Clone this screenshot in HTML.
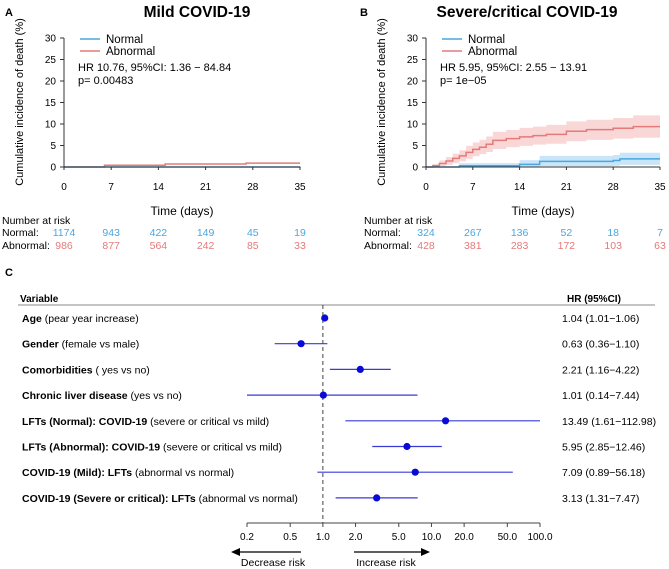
<!DOCTYPE html>
<html><head><meta charset="utf-8"><style>
body{margin:0;background:#fff}
svg{display:block;font-family:"Liberation Sans",Arial,sans-serif}
</style></head><body>
<svg id="s" width="669" height="569" viewBox="0 0 669 569">
<g id="pa"></g>
<g id="pb"></g>
<g id="pc"></g>
</svg>
<script>
const NS="http://www.w3.org/2000/svg";
function el(p,t,a,txt){const e=document.createElementNS(NS,t);for(const k in a)e.setAttribute(k,a[k]);if(txt!=null)e.textContent=txt;p.appendChild(e);return e;}

// ---- KM data ----
const kmTicks=[0,7,14,21,28,35];
const yTicks=[0,5,10,15,20,25,30];
const aNormT=[0,35];const aNormV=[0,0.1];
const aAbnT=[0,6,15,27,35];const aAbnV=[0,0.4,0.7,0.9,0.9];
const bAbnT=[0,1,2,3,4,5,6,7,8,9,10,12,14,16,18,21,24,28,31,35];
const bAbnV=[0,0.3,0.8,1.4,2,2.6,3.4,4.1,4.6,5.3,6.2,6.6,7,7.3,7.6,8.3,8.7,9,9.4,9.4];
const bAbnLo=[0,0,0.2,0.5,0.9,1.3,1.9,2.5,3,3.5,4.2,4.6,4.9,5.2,5.4,6,6.3,6.6,6.8,6.8];
const bAbnHi=[0,0.7,1.5,2.3,3.1,3.9,4.9,5.7,6.3,7.1,8.2,8.6,9.1,9.4,9.8,10.6,11,11.4,12,12];
const bNormT=[0,5,14,17,28,29,35];
const bNormV=[0,0.3,0.6,1.3,1.5,1.9,1.9];
const bNormLo=[0,0,0,0.2,0.3,0.5,0.5];
const bNormHi=[0,0.9,1.6,2.6,2.8,3.3,3.3];
const aRiskN=[1174,943,422,149,45,19];
const aRiskA=[986,877,564,242,85,33];
const bRiskN=[324,267,136,52,18,7];
const bRiskA=[428,381,283,172,103,63];

function stepPts(T,V,sx,sy){let p=[];for(let i=0;i<T.length;i++){if(i>0)p.push([sx(T[i]),sy(V[i-1])]);p.push([sx(T[i]),sy(V[i])]);}return p;}
function km(g,x0,x1,title,tx,label,lx,hr,pv,series,rN,rA,riskX){
  const sx=t=>x0+(x1-x0)*t/35, sy=v=>167-(129/30)*v;
  el(g,'text',{x:lx,y:16,'font-size':11,'font-weight':'bold',},label);
  el(g,'text',{x:tx,y:17,'font-size':15.5,'font-weight':'bold','text-anchor':'middle',},title);
  for(const s of series){
    if(s.lo){const up=stepPts(s.T,s.hi,sx,sy),lo=stepPts(s.T,s.lo,sx,sy).reverse();
      el(g,'polygon',{points:up.concat(lo).map(p=>p.join(',')).join(' '),fill:s.fill,});}
    el(g,'polyline',{points:stepPts(s.T,s.V,sx,sy).map(p=>p.join(',')).join(' '),fill:'none',stroke:s.col,'stroke-width':1.5,});
  }
  el(g,'line',{x1:x0,y1:38,x2:x0,y2:167,stroke:'#333',});
  el(g,'line',{x1:x0,y1:167,x2:x1,y2:167,stroke:'#333',});
  for(const v of yTicks){el(g,'line',{x1:x0-4,y1:sy(v),x2:x0,y2:sy(v),stroke:'#333'});
    el(g,'text',{x:x0-8,y:sy(v)+3.5,'font-size':10,'text-anchor':'end',},v);}
  kmTicks.forEach((t,i)=>{el(g,'line',{x1:sx(t),y1:167,x2:sx(t),y2:170,stroke:'#333'});
    el(g,'text',{x:sx(t),y:190,'font-size':10,'text-anchor':'middle',},t);
    el(g,'text',{x:sx(t),y:236,'font-size':10.5,fill:'#4aa6df','text-anchor':'middle',},rN[i]);
    el(g,'text',{x:sx(t),y:249,'font-size':10.5,fill:'#e47a7a','text-anchor':'middle',},rA[i]);});
  el(g,'text',{x:(x0+x1)/2,y:215,'font-size':12,'text-anchor':'middle',},'Time (days)');
  el(g,'text',{x:0,y:0,'font-size':11,'text-anchor':'middle',transform:`translate(${x0-41},102) rotate(-90)`,},'Cumulative incidence of death (%)');
  el(g,'text',{x:riskX,y:224,'font-size':10.5,},'Number at risk');
  el(g,'text',{x:riskX,y:236,'font-size':10.5,},'Normal:');
  el(g,'text',{x:riskX,y:249,'font-size':10.5,},'Abnormal:');
  el(g,'line',{x1:x0+16,y1:39,x2:x0+36,y2:39,stroke:'#4aa6df','stroke-width':1.5,});
  el(g,'text',{x:x0+42,y:43,'font-size':11.5,},'Normal');
  el(g,'line',{x1:x0+16,y1:51,x2:x0+36,y2:51,stroke:'#e47a7a','stroke-width':1.5,});
  el(g,'text',{x:x0+42,y:55,'font-size':11.5,},'Abnormal');
  el(g,'text',{x:x0+14,y:71,'font-size':11,},hr);
  el(g,'text',{x:x0+14,y:84,'font-size':11,},pv);
}
km(document.getElementById('pa'),64,300,'Mild COVID-19',197,'A',5,'HR 10.76, 95%CI: 1.36 − 84.84','p= 0.00483',
  [{T:aAbnT,V:aAbnV,col:'#e47a7a',name:'abnormal'},{T:aNormT,V:aNormV,col:'#4aa6df',name:'normal'}],aRiskN,aRiskA,2);
km(document.getElementById('pb'),426,660,'Severe/critical COVID-19',527,'B',360,'HR 5.95, 95%CI: 2.55 − 13.91','p= 1e−05',
  [{T:bAbnT,V:bAbnV,lo:bAbnLo,hi:bAbnHi,col:'#e47a7a',fill:'rgba(240,140,140,0.35)',name:'abnormal'},
   {T:bNormT,V:bNormV,lo:bNormLo,hi:bNormHi,col:'#4aa6df',fill:'rgba(100,180,240,0.35)',name:'normal'}],bRiskN,bRiskA,364);

// ---- Forest data ----
const varBold=['Age','Gender','Comorbidities','Chronic liver disease','LFTs (Normal): COVID-19','LFTs (Abnormal): COVID-19','COVID-19 (Mild): LFTs','COVID-19 (Severe or critical): LFTs'];
const varRest=[' (pear year increase)',' (female vs male)',' ( yes vs no)',' (yes vs no)',' (severe or critical vs mild)',' (severe or critical vs mild)',' (abnormal vs normal)',' (abnormal vs normal)'];
const hrVal=[1.04,0.63,2.21,1.01,13.49,5.95,7.09,3.13];
const hrLo=[1.01,0.36,1.16,0.14,1.61,2.85,0.89,1.31];
const hrHi=[1.06,1.10,4.22,7.44,112.98,12.46,56.18,7.47];
const hrLabels=['1.04 (1.01−1.06)','0.63 (0.36−1.10)','2.21 (1.16−4.22)','1.01 (0.14−7.44)','13.49 (1.61−112.98)','5.95 (2.85−12.46)','7.09 (0.89−56.18)','3.13 (1.31−7.47)'];
const fTicks=[0.2,0.5,1.0,2.0,5.0,10.0,20.0,50.0,100.0];
(function(){
  const g=document.getElementById('pc');
  const fx=v=>247+(Math.log10(v)-Math.log10(0.2))*(293/Math.log10(500));
  const ry=i=>318+i*25.7;
  el(g,'text',{x:5,y:276,'font-size':11,'font-weight':'bold',},'C');
  el(g,'text',{x:20,y:302,'font-size':10,'font-weight':'bold',},'Variable');
  el(g,'text',{x:567,y:302,'font-size':10,'font-weight':'bold',},'HR (95%CI)');
  el(g,'line',{x1:18,y1:305,x2:655,y2:305,stroke:'#888',});
  el(g,'line',{x1:fx(1),y1:305,x2:fx(1),y2:523,stroke:'#444','stroke-dasharray':'4,3',});
  for(let i=0;i<hrVal.length;i++){
    const t=el(g,'text',{x:22,y:ry(i)+4,'font-size':10.5,});
    el(t,'tspan',{'font-weight':'bold'},varBold[i]);el(t,'tspan',{},varRest[i]);
    el(g,'line',{x1:fx(Math.max(hrLo[i],0.2)),y1:ry(i),x2:fx(Math.min(hrHi[i],100)),y2:ry(i),stroke:'#3a3ad8','stroke-width':1.2,});
    el(g,'circle',{cx:fx(hrVal[i]),cy:ry(i),r:3.6,fill:'#0a0ad8',});
    el(g,'text',{x:562,y:ry(i)+4,'font-size':10.5,},hrLabels[i]);
  }
  el(g,'line',{x1:fx(0.2),y1:523,x2:fx(100),y2:523,stroke:'#444',});
  for(const v of fTicks){el(g,'line',{x1:fx(v),y1:523,x2:fx(v),y2:527,stroke:'#444'});
    el(g,'text',{x:fx(v),y:540,'font-size':10,'text-anchor':'middle',},v.toFixed(1));}
  el(g,'line',{x1:301,y1:552,x2:235,y2:552,stroke:'#000','stroke-width':1.2,});
  el(g,'polygon',{points:'231,552 240,548 240,556',fill:'#000'});
  el(g,'line',{x1:354,y1:552,x2:426,y2:552,stroke:'#000','stroke-width':1.2,});
  el(g,'polygon',{points:'430,552 421,548 421,556',fill:'#000'});
  el(g,'text',{x:273,y:566,'font-size':10.5,'text-anchor':'middle',},'Decrease risk');
  el(g,'text',{x:386,y:566,'font-size':10.5,'text-anchor':'middle',},'Increase risk');
})();
</script>
</body></html>
